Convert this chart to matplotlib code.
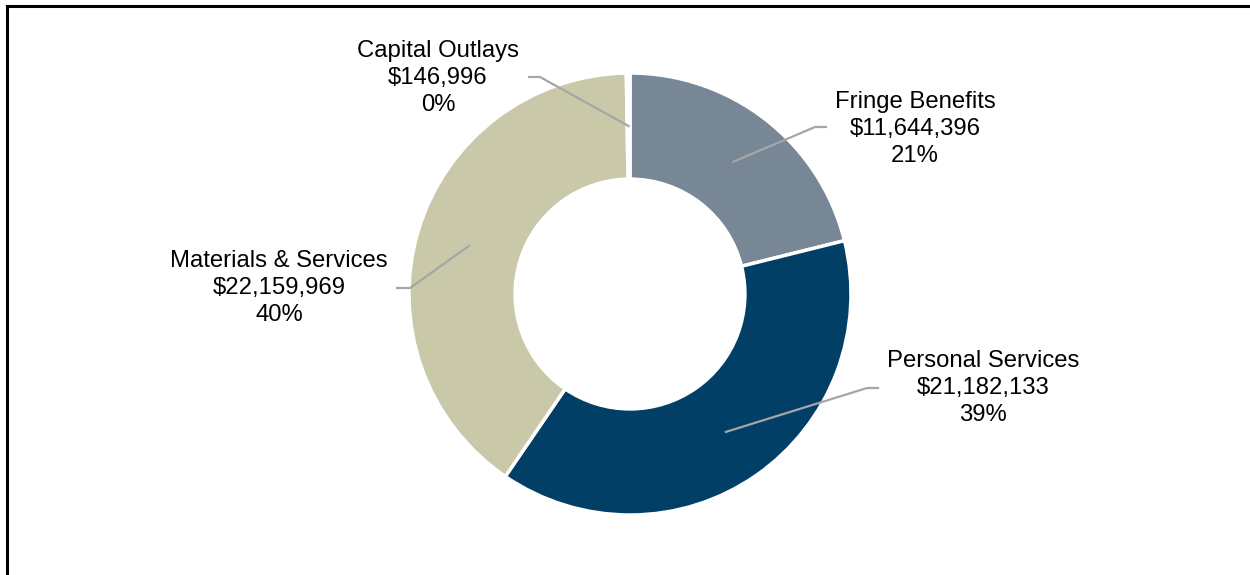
import numpy as np
import matplotlib.pyplot as plt
from matplotlib.lines import Line2D

plt.rcParams['font.family'] = ['Liberation Sans', 'DejaVu Sans']

categories = ['Fringe Benefits', 'Personal Services', 'Materials & Services', 'Capital Outlays']
amounts = [11644396, 21182133, 22159969, 146996]
pct_labels = ['21%', '39%', '40%', '0%']
colors = ['#778796', '#023F66', '#C9C8A8', '#FFFFFF']

# label centre and leader-line start/elbow, in pixels (x from left, y from top)
label_pos = [(915, 129), (983, 388), (279, 288), (438, 78)]
leader_pts = [[(826, 127), (815, 127)],
              [(878, 388), (867, 388)],
              [(397, 288), (410, 288)],
              [(529, 77), (540, 77)]]

W, H = 1250, 575
CX, CY, R = 630, 294, 221


def to_data(px, py):
    return (px - CX) / R, (CY - py) / R


fig = plt.figure(figsize=(12.5, 5.75), dpi=100)
ax = fig.add_axes([0, 0, 1, 1])

hole = 0.52
wedges, _ = ax.pie(amounts, colors=colors, startangle=90, counterclock=False,
                   radius=1.0, wedgeprops=dict(width=1 - hole, edgecolor='white', linewidth=2.5))

# pie() resets the limits, so set them afterwards
ax.set_xlim(-CX / R, (W - CX) / R)
ax.set_ylim(-(H - CY) / R, CY / R)
ax.set_aspect('equal')
ax.axis('off')

for i, w in enumerate(wedges):
    mid = np.deg2rad((w.theta1 + w.theta2) / 2)
    rr = (1 + hole) / 2
    ax_pt = (rr * np.cos(mid), rr * np.sin(mid))
    p0 = to_data(*leader_pts[i][0])
    p1 = to_data(*leader_pts[i][1])
    ax.plot([p0[0], p1[0], ax_pt[0]], [p0[1], p1[1], ax_pt[1]],
            color='#A6A6A6', lw=1.6, zorder=5)
    tx, ty = to_data(*label_pos[i])
    txt = categories[i] + '\n' + '${:,}'.format(amounts[i]) + '\n' + pct_labels[i]
    ax.text(tx, ty, txt, ha='center', va='center', fontsize=17.2,
            linespacing=1.31, color='black')

# outer frame (left and top edges visible)
fig.add_artist(Line2D([6.5 / W, 6.5 / W], [0, 1 - 5.5 / H], color='black', lw=2.2,
                      transform=fig.transFigure))
fig.add_artist(Line2D([6.5 / W, 1], [1 - 5.5 / H, 1 - 5.5 / H], color='black', lw=2.2,
                      transform=fig.transFigure))

fig.savefig('out.png', dpi=100)
